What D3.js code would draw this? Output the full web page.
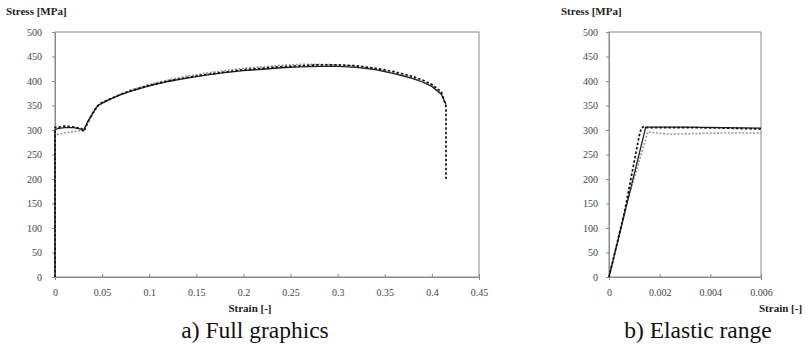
<!DOCTYPE html>
<html><head><meta charset="utf-8">
<script src="https://cdn.jsdelivr.net/npm/d3@7"></script>
<style>body{margin:0;background:#fff}svg{display:block}</style>
</head><body>
<svg id="c" width="805" height="346"></svg>
<script>
// ---- data ----
const yTicks = [0,50,100,150,200,250,300,350,400,450,500];
const xTicksA = [0,0.05,0.1,0.15,0.2,0.25,0.3,0.35,0.4,0.45];
const xTickLabelsA = ["0","0.05","0.1","0.15","0.2","0.25","0.3","0.35","0.4","0.45"];
const xTicksB = [0,0.002,0.004,0.006];
const xTickLabelsB = ["0","0.002","0.004","0.006"];

// Full graphics (strain, stress)
const fullSolid = [[0,0],[0,300],[0.003,303],[0.01,305],[0.02,305],[0.027,302],[0.03,298],[0.035,318],[0.04,334],[0.045,349],[0.05,355],[0.06,364],[0.07,372],[0.08,379],[0.1,390],[0.12,399],[0.14,406],[0.16,412],[0.18,417],[0.2,421],[0.22,424],[0.24,427],[0.26,429],[0.28,430],[0.3,430],[0.32,428],[0.34,423],[0.36,415],[0.38,405],[0.39,398],[0.4,389],[0.41,373],[0.415,352]];
const fullDashed = [[0,0],[0,305],[0.005,306],[0.01,308],[0.02,306],[0.028,303],[0.031,299],[0.036,320],[0.041,338],[0.046,351],[0.05,356],[0.06,365],[0.07,373],[0.08,380],[0.1,391],[0.12,400],[0.14,407],[0.16,413],[0.18,418],[0.2,423],[0.22,426],[0.24,429],[0.26,431],[0.28,433],[0.3,433],[0.32,431],[0.34,426],[0.36,419],[0.38,409],[0.39,402],[0.4,393],[0.41,378],[0.415,348],[0.415,200]];
const fullGray = [[0,0],[0,290],[0.01,294],[0.02,297],[0.03,299],[0.035,316],[0.04,332],[0.045,347],[0.05,354],[0.06,364],[0.07,373],[0.08,381],[0.1,393],[0.12,402],[0.14,410],[0.16,416],[0.18,421],[0.2,426],[0.22,429],[0.24,432],[0.26,434],[0.28,434],[0.3,433],[0.32,430],[0.34,424],[0.36,416],[0.38,406],[0.4,390],[0.41,372]];

// Elastic range (strain, stress)
const elSolid = [[0,0],[0.00145,306],[0.003,306],[0.0045,305],[0.006,304]];
const elDashed = [[0,0],[0.0006,130],[0.0012,290],[0.00128,304],[0.00138,307],[0.0015,305],[0.003,305],[0.0045,304],[0.006,302]];
const elGray = [[0,0],[0.0007,150],[0.00153,296],[0.0019,294],[0.0024,291],[0.0035,293],[0.0048,294],[0.006,294]];

// ---- drawing ----
const svg = d3.select("#c");
const FONT = '"Liberation Serif"';
const axisCol = "#8a8a8a";

function panel(o){
  const x = d3.scaleLinear().domain(o.xDomain).range([o.x0,o.x1]);
  const y = d3.scaleLinear().domain([0,500]).range([o.y1,o.y0]);
  const g = svg.append("g");
  g.append("rect").attr("x",o.x0).attr("y",o.y0).attr("width",o.x1-o.x0).attr("height",o.y1-o.y0)
    .attr("fill","none").attr("stroke",axisCol).attr("stroke-width",1);
  const ya = g.append("g").attr("transform",`translate(${o.x0},0)`)
    .call(d3.axisLeft(y).tickValues(yTicks).tickSize(3).tickPadding(o.yPad).tickFormat(d3.format("d")));
  const xa = g.append("g").attr("transform",`translate(0,${o.y1})`)
    .call(d3.axisBottom(x).tickValues(o.xTicks).tickSize(3).tickPadding(9).tickFormat((d,i)=>o.xLabels[i]));
  [ya,xa].forEach(a=>{
    a.select(".domain").attr("stroke",axisCol);
    a.selectAll(".tick line").attr("stroke",axisCol);
    a.selectAll("text").style("font-family",FONT).style("font-size","10px").attr("fill","#444");
  });
  xa.selectAll(".tick line").attr("y2",-3);
  const line = d3.line().x(d=>x(d[0])).y(d=>y(d[1]));
  g.append("path").datum(o.gray).attr("d",line).attr("fill","none")
    .attr("stroke","#9a9a9a").attr("stroke-width",1.6).attr("stroke-dasharray","2,1.6");
  g.append("path").datum(o.solid).attr("d",line).attr("fill","none")
    .attr("stroke","#222").attr("stroke-width",1.3);
  g.append("path").datum(o.dashed).attr("d",line).attr("fill","none")
    .attr("stroke","#111").attr("stroke-width",1.7).attr("stroke-dasharray","2.5,2");
  g.append("text").attr("x",o.sx).attr("y",15).text("Stress [MPa]")
    .style("font-family",FONT).style("font-weight","bold").style("font-size","11px").attr("fill","#222");
  g.append("text").attr("x",o.strainX).attr("y",312).attr("text-anchor",o.strainAnchor).text("Strain [-]")
    .style("font-family",FONT).style("font-weight","bold").style("font-size","11px").attr("fill","#222");
  g.append("text").attr("x",o.capX).attr("y",338).attr("text-anchor","middle").text(o.caption)
    .style("font-family",FONT).style("font-size","23.5px").attr("fill","#111");
}

panel({x0:55,x1:479,y0:32,y1:277,xDomain:[0,0.45],xTicks:xTicksA,xLabels:xTickLabelsA,yPad:10,
  solid:fullSolid,dashed:fullDashed,gray:fullGray,sx:6,strainX:250,strainAnchor:"middle",
  capX:255,caption:"a) Full graphics"});
panel({x0:609,x1:761,y0:32,y1:277,xDomain:[0,0.006],xTicks:xTicksB,xLabels:xTickLabelsB,yPad:8,
  solid:elSolid,dashed:elDashed,gray:elGray,sx:561,strainX:759,strainAnchor:"start",
  capX:698,caption:"b) Elastic range"});
</script>
</body></html>
